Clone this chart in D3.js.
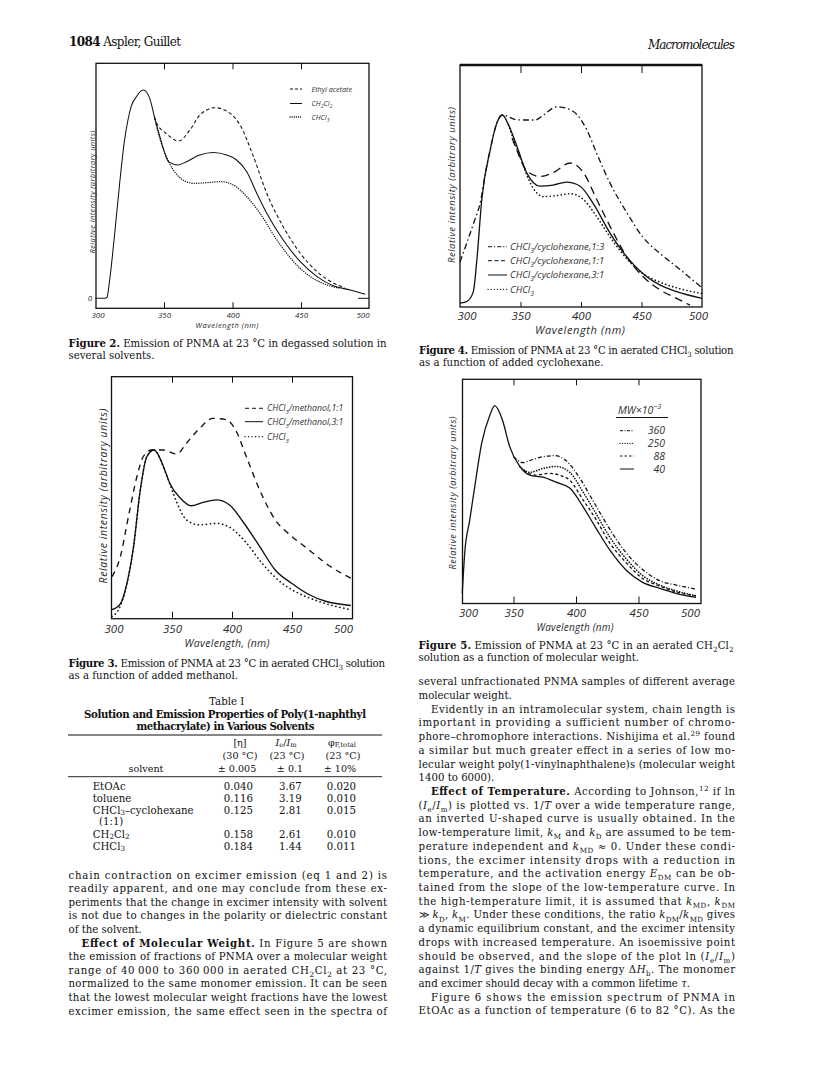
<!DOCTYPE html>
<html>
<head>
<meta charset="utf-8">
<script src="https://cdn.jsdelivr.net/npm/d3@7"></script>
<style>
  body { margin: 0; background: #fff; }
  svg { display: block; }
</style>
</head>
<body>
<script>
// ---- data -------------------------------------------------------------

const xTickValues = [300, 350, 400, 450, 500];
const innerTicks = [350, 400, 450];

// Figure 2: degassed solution, several solvents  [wavelength nm, relative intensity]
const fig2Labels = ["Ethyl acetate", "CH_{2}Cl_{2}", "CHCl_{3}"];
const fig2EthylAcetate = [[343, 0.872], [344.4, 0.845], [351.8, 0.79], [360.8, 0.755], [368.9, 0.808], [376.2, 0.88],
  [387.2, 0.915], [398.2, 0.888], [405.5, 0.832], [415.3, 0.68], [425, 0.504], [437, 0.344], [449.5, 0.216],
  [461.7, 0.128], [474, 0.072], [482, 0.05]];
const fig2CH2Cl2 = [[300, 0], [307, 0], [308.5, 0.006], [310, 0.07], [314, 0.31], [317.6, 0.55], [321, 0.75],
  [323.7, 0.856], [326, 0.92], [329.8, 0.968], [335, 1.0], [339.6, 0.96], [343, 0.872], [347, 0.776], [353.5, 0.655],
  [360.3, 0.64], [366.4, 0.656], [376, 0.688], [386, 0.70], [395.7, 0.688], [403, 0.664], [410.4, 0.608],
  [417.7, 0.504], [425, 0.408], [437, 0.28], [449.5, 0.176], [461.7, 0.104], [474, 0.059], [486, 0.04], [497, 0.019]];
const fig2CHCl3 = [[343, 0.872], [344.4, 0.83], [351.8, 0.68], [360.8, 0.584], [371.3, 0.552], [381, 0.555],
  [391, 0.56], [400.6, 0.544], [410.4, 0.488], [420.1, 0.408], [432.4, 0.28], [444.6, 0.176], [456.8, 0.104],
  [469, 0.064], [478.8, 0.048]];

// Figure 3: aerated CHCl3 with methanol
const fig3Labels = ["CHCl_{3}/methanol,1:1", "CHCl_{3}/methanol,3:1", "CHCl_{3}"];
const fig3Methanol11 = [[300, 0.25], [307, 0.37], [313.8, 0.61], [320.7, 0.84], [326, 0.96], [333, 1.0], [343, 1.0],
  [354, 0.976], [362, 1.04], [373, 1.128], [384, 1.187], [395, 1.18], [403, 1.118], [412, 0.96], [423, 0.764],
  [436, 0.587], [450, 0.488], [464, 0.41], [478, 0.33], [499, 0.242]];
const fig3Methanol31 = [[300, 0.055], [307, 0.09], [312.4, 0.21], [318, 0.43], [323.5, 0.76], [329, 0.96], [335, 1.0],
  [343, 0.90], [348, 0.805], [357, 0.715], [366, 0.67], [376, 0.69], [387, 0.705], [398, 0.675], [409, 0.577],
  [423, 0.43], [436, 0.29], [450, 0.21], [464, 0.145], [478, 0.105], [499, 0.08]];
const fig3CHCl3 = [[300, 0.015], [305, 0.05], [310, 0.14], [318, 0.43], [323.5, 0.76], [329, 0.96], [335, 1.0],
  [345, 0.86], [354, 0.69], [362, 0.587], [373, 0.557], [387, 0.566], [398, 0.543], [412, 0.45], [425, 0.33],
  [442, 0.21], [455, 0.154], [472, 0.105], [499, 0.055]];

// Figure 4: aerated CHCl3 with cyclohexane
const fig4Labels = ["CHCl_{3}/cyclohexane,1:3", "CHCl_{3}/cyclohexane,1:1", "CHCl_{3}/cyclohexane,3:1", "CHCl_{3}"];
const fig4Cyclo13 = [[300, 0.235], [306, 0.34], [312, 0.45], [317, 0.55], [321, 0.70], [325, 0.82], [330, 0.95],
  [335, 1.0], [347, 0.975], [355, 0.974], [362, 0.974], [369, 1.0], [380, 1.043], [388, 1.035], [397, 1.0],
  [405, 0.92], [413, 0.80], [424, 0.645], [438, 0.49], [451, 0.365], [465, 0.28], [479, 0.21], [500, 0.10]];
const fig4Cyclo11 = [[343, 0.88], [348, 0.80], [355, 0.71], [366, 0.68], [377, 0.70], [391, 0.75], [402, 0.70],
  [413, 0.56], [424, 0.42], [438, 0.26], [451, 0.16], [465, 0.09], [479, 0.045], [490, 0.01]];
const fig4Cyclo31 = [[300, 0.02], [306, 0.03], [311, 0.08], [314, 0.25], [318, 0.56], [325, 0.82], [330, 0.95],
  [335, 1.0], [340, 0.95], [346, 0.855], [355, 0.70], [366, 0.63], [377, 0.635], [388, 0.65], [399, 0.63],
  [410, 0.54], [424, 0.385], [438, 0.26], [451, 0.175], [465, 0.115], [479, 0.08], [500, 0.045]];
const fig4CHCl3 = [[340, 0.95], [345, 0.86], [350, 0.78], [357, 0.66], [369, 0.575], [380, 0.58], [391, 0.59],
  [402, 0.56], [413, 0.47], [424, 0.365], [438, 0.25], [451, 0.175], [465, 0.13], [479, 0.10], [500, 0.07]];

// Figure 5: aerated CH2Cl2, molecular weight fractions (MW x 10^-3)
const fig5Labels = ["360", "250", "88", "40"];
const fig5Mw360 = [[350, 0.74], [357.6, 0.71], [363, 0.72], [373.6, 0.74], [383, 0.745], [392, 0.72], [403, 0.63],
  [413.6, 0.515], [427, 0.37], [440, 0.25], [453, 0.166], [467, 0.107], [480, 0.085], [496, 0.065]];
const fig5Mw250 = [[355, 0.69], [363, 0.66], [373.6, 0.68], [384, 0.69], [395, 0.66], [405.6, 0.56], [416, 0.45],
  [427, 0.33], [440, 0.22], [453, 0.135], [467, 0.085], [480, 0.056], [496, 0.03]];
const fig5Mw88 = [[358, 0.67], [368, 0.646], [379, 0.655], [387, 0.645], [395, 0.62], [405.6, 0.52], [416, 0.42],
  [427, 0.30], [440, 0.20], [453, 0.12], [467, 0.08], [480, 0.05], [496, 0.03]];
const fig5Mw40 = [[309, 0.043], [311, 0.25], [315, 0.417], [319, 0.587], [324.6, 0.81], [331, 0.95], [335, 1.0],
  [341, 0.93], [347, 0.79], [355, 0.69], [363, 0.646], [373.6, 0.635], [384, 0.61], [395, 0.58], [405.6, 0.485],
  [416, 0.375], [427, 0.264], [440, 0.162], [453, 0.10], [467, 0.068], [480, 0.043], [496, 0.022]];

// Table I
const tableSolvents = ["EtOAc", "toluene", "CHCl_{3}–cyclohexane", "CH_{2}Cl_{2}", "CHCl_{3}"];
const intrinsicVisc = [0.040, 0.116, 0.125, 0.158, 0.184];
const ratioIeIm = [3.67, 3.19, 2.81, 2.61, 1.44];
const phiTotal = [0.020, 0.010, 0.015, 0.010, 0.011];

// text on the page
const fig2Caption = ["**Figure 2.** Emission of PNMA at 23 °C in degassed solution in", "several solvents."];
const fig3Caption = ["**Figure 3.** Emission of PNMA at 23 °C in aerated CHCl_{3} solution", "as a function of added methanol."];
const fig4Caption = ["**Figure 4.** Emission of PNMA at 23 °C in aerated CHCl_{3} solution", "as a function of added cyclohexane."];
const fig5Caption = ["**Figure 5.** Emission of PNMA at 23 °C in an aerated CH_{2}Cl_{2}", "solution as a function of molecular weight."];

const leftColLines = [
  "chain contraction on excimer emission (eq 1 and 2) is",
  "readily apparent, and one may conclude from these ex-",
  "periments that the change in excimer intensity with solvent",
  "is not due to changes in the polarity or dielectric constant",
  "of the solvent.",
  "  **Effect of Molecular Weight.** In Figure 5 are shown",
  "the emission of fractions of PNMA over a molecular weight",
  "range of 40\u2009000 to 360\u2009000 in aerated CH_{2}Cl_{2} at 23 °C,",
  "normalized to the same monomer emission. It can be seen",
  "that the lowest molecular weight fractions have the lowest",
  "excimer emission, the same effect seen in the spectra of"
];

const rightColLines = [
  "several unfractionated PNMA samples of different average",
  "molecular weight.",
  "  Evidently in an intramolecular system, chain length is",
  "important in providing a sufficient number of chromo-",
  "phore–chromophore interactions. Nishijima et al.^{29} found",
  "a similar but much greater effect in a series of low mo-",
  "lecular weight poly(1-vinylnaphthalene)s (molecular weight",
  "1400 to 6000).",
  "  **Effect of Temperature.** According to Johnson,^{12} if ln",
  "(*I*_{e}/*I*_{m}) is plotted vs. 1/*T* over a wide temperature range,",
  "an inverted U-shaped curve is usually obtained. In the",
  "low-temperature limit, *k*_{M} and *k*_{D} are assumed to be tem-",
  "perature independent and *k*_{MD} ≈ 0. Under these condi-",
  "tions, the excimer intensity drops with a reduction in",
  "temperature, and the activation energy *E*_{DM} can be ob-",
  "tained from the slope of the low-temperature curve. In",
  "the high-temperature limit, it is assumed that *k*_{MD}, *k*_{DM}",
  "≫ *k*_{D}, *k*_{M}. Under these conditions, the ratio *k*_{DM}/*k*_{MD} gives",
  "a dynamic equilibrium constant, and the excimer intensity",
  "drops with increased temperature. An isoemissive point",
  "should be observed, and the slope of the plot ln (*I*_{e}/*I*_{m})",
  "against 1/*T* gives the binding energy Δ*H*_{b}. The monomer",
  "and excimer should decay with a common lifetime *τ*.",
  "  Figure 6 shows the emission spectrum of PNMA in",
  "EtOAc as a function of temperature (6 to 82 °C). As the"
];

// ---- page ---------------------------------------------------------------

const W = 815, H = 1087;
const serif = "'DejaVu Serif', serif";
const sans = "'Open Sans', 'DejaVu Sans', sans-serif";
const ink = "#111";
const bodySize = 10.2;

const svg = d3.select("body").append("svg")
  .attr("width", W)
  .attr("height", H);

svg.append("rect").attr("width", W).attr("height", H).attr("fill", "#fff");

// writes a string with **bold**, *italic*, _{sub} and ^{sup} into a text element
function rich(textSel, str, subShift = 0.3) {
  const fs = parseFloat(textSel.attr("font-size")) || 10;
  const parts = str.split(/(\*\*.+?\*\*|\*.+?\*|_\{.+?\}|\^\{.+?\})/g).filter(s => s.length);
  let shift = 0;
  parts.forEach(p => {
    let txt = p, weight = null, style = null, target = 0, small = false;
    if (p.startsWith("**")) { txt = p.slice(2, -2); weight = "bold"; }
    else if (p.startsWith("*")) { txt = p.slice(1, -1); style = "italic"; }
    else if (p.startsWith("_{")) { txt = p.slice(2, -1); target = fs * subShift; small = true; }
    else if (p.startsWith("^{")) { txt = p.slice(2, -1); target = -fs * 0.42; small = true; }
    const t = textSel.append("tspan").text(txt);
    if (target !== shift) t.attr("dy", (target - shift).toFixed(2));
    shift = target;
    if (weight) t.attr("font-weight", weight);
    if (style) t.attr("font-style", style);
    if (small) t.attr("font-size", (fs * 0.7).toFixed(2));
  });
  return textSel;
}

function serifText(x, y, str, size, opts = {}) {
  const t = svg.append("text")
    .attr("x", x)
    .attr("y", y)
    .attr("font-family", serif)
    .attr("font-size", size)
    .attr("fill", ink)
    .attr("text-anchor", opts.anchor || "start");
  if (opts.weight) t.attr("font-weight", opts.weight);
  if (opts.style) t.attr("font-style", opts.style);
  rich(t, str, opts.sub);
  if (opts.len) t.attr("textLength", opts.len).attr("lengthAdjust", "spacing");
  return t;
}

// running head
serifText(69, 45.5, "**1084**  Aspler, Guillet", 12, { len: 112 });
serifText(735, 48.5, "Macromolecules", 12, { anchor: "end", style: "italic", len: 87 });

// ---- figures ----------------------------------------------------------

const figures = [
  {
    left: 96, right: 369, top: 63.3, bottom: 308.3, x300: 95.5, x500: 369.5, yZero: 298.3, yPeak: 90,
    lw: 1.05, tickTop: 6, tickBot: 6, tickFont: 8, tickBase: 318, lblIn: [1.5, 6.5],
    xTitle: "Wavelength (nm)", xTitleX: 227, xTitleY: 328, xTitleFont: 7.5, xTitleLen: 63,
    yTitleX: 92, yTitleY: 192, yTitleFont: 7.5, yTitleLen: 123,
    series: [
      { data: fig2EthylAcetate, dash: "3.5,2.5" },
      { data: fig2CH2Cl2, dash: null },
      { data: fig2CHCl3, dash: "0.1,2.2", dot: true }
    ],
    legend: { labels: fig2Labels, x1: 290, x2: 302, tx: 311.5, ys: [89, 103.5, 117], font: 7.2,
      dashes: ["3,2", null, "0.1,2"], dots: [false, false, true] },
    zeroMark: true
  },
  {
    left: 111.5, right: 352.5, top: 376.7, bottom: 618.7, x300: 112, x500: 352, yZero: 619, yPeak: 450,
    lw: 1.35, tickTop: 6, tickBot: 7, tickFont: 11.5, tickBase: 633.5, lblIn: [2, 9.5],
    xTitle: "Wavelength, (nm)", xTitleX: 227, xTitleY: 647, xTitleFont: 10.5, xTitleLen: 85,
    yTitleX: 103, yTitleY: 496, yTitleFont: 10.5, yTitleLen: 175,
    series: [
      { data: fig3Methanol11, dash: "6,5" },
      { data: fig3Methanol31, dash: null },
      { data: fig3CHCl3, dash: "0.1,4", dot: true }
    ],
    legend: { labels: fig3Labels, x1: 245, x2: 263, tx: 267, ys: [408.3, 421.7, 436.7], font: 8.8,
      dashes: ["4,3", null, "0.1,3.4"], dots: [false, false, true] }
  },
  {
    left: 460, right: 702, top: 65, bottom: 307, x300: 460, x500: 702, yZero: 307, yPeak: 115,
    lw: 1.3, tickTop: 8, tickBot: 5, tickFont: 11.5, tickBase: 320, lblIn: [6.5, 4], thickTop: true,
    xTitle: "Wavelength (nm)", xTitleX: 580, xTitleY: 334, xTitleFont: 11, xTitleLen: 90,
    yTitleX: 452, yTitleY: 185, yTitleFont: 9.5, yTitleLen: 156,
    series: [
      { data: fig4Cyclo13, dash: "6,3,1.5,3" },
      { data: fig4Cyclo11, dash: "8,5" },
      { data: fig4Cyclo31, dash: null },
      { data: fig4CHCl3, dash: "0.1,3.6", dot: true }
    ],
    legend: { labels: fig4Labels, x1: 488, x2: 507, tx: 510, ys: [246.7, 260.7, 275, 289.3], font: 9.6,
      dashes: ["4,2,1.2,2", "4,2.5", null, "0.1,3"], dots: [false, false, false, true] }
  },
  {
    left: 462.5, right: 701, top: 379.3, bottom: 603.5, x300: 451, x500: 701, yZero: 601.7, yPeak: 405.7,
    lw: 1.3, tickTop: 6, tickBot: 7, tickFont: 11.5, tickBase: 616.5, lblIn: [5.5, 11],
    xTitle: "Wavelength (nm)", xTitleX: 575, xTitleY: 630.5, xTitleFont: 10, xTitleLen: 77,
    yTitleX: 453, yTitleY: 493, yTitleFont: 9, yTitleLen: 153,
    series: [
      { data: fig5Mw360, dash: "4,2,1,2" },
      { data: fig5Mw250, dash: "0.1,2.6", dot: true },
      { data: fig5Mw88, dash: "3,2.5" },
      { data: fig5Mw40, dash: null }
    ],
    mwLegend: { labels: fig5Labels, headX: 618, headY: 410, ruleY: 417.5, ruleX: [616, 668], x1: 620, x2: 634,
      tx: 665, ys: [430.7, 443.3, 456, 469], font: 10.5,
      dashes: ["3,1.5,1,1.5", "0.1,2.4", "2.5,2", null], dots: [false, true, false, false] }
  }
];

function drawFigure(f) {
  const g = svg.append("g");

  const x = d3.scaleLinear().domain([300, 500]).range([f.x300, f.x500]);
  const y = d3.scaleLinear().domain([0, 1]).range([f.yZero, f.yPeak]);

  // curves
  const line = d3.line()
    .x(d => x(d[0]))
    .y(d => y(d[1]))
    .curve(d3.curveMonotoneX);

  f.series.forEach(s => {
    g.append("path")
      .datum(s.data)
      .attr("d", line)
      .attr("fill", "none")
      .attr("stroke", ink)
      .attr("stroke-width", s.dot ? f.lw * 1.25 : f.lw)
      .attr("stroke-linecap", s.dot ? "round" : "butt")
      .attr("stroke-dasharray", s.dash);
  });

  // frame
  g.append("rect")
    .attr("x", f.left)
    .attr("y", f.top)
    .attr("width", f.right - f.left)
    .attr("height", f.bottom - f.top)
    .attr("fill", "none")
    .attr("stroke", ink)
    .attr("stroke-width", 1.3);
  if (f.thickTop) {
    g.append("line")
      .attr("x1", f.left).attr("x2", f.right)
      .attr("y1", f.top).attr("y2", f.top)
      .attr("stroke", ink).attr("stroke-width", 2.4);
  }

  // inward tick marks top and bottom
  g.append("g")
    .attr("transform", `translate(0,${f.top})`)
    .attr("color", ink)
    .call(d3.axisBottom(x).tickValues(innerTicks).tickSize(f.tickTop).tickFormat(""))
    .call(a => a.select(".domain").remove())
    .call(a => a.selectAll("line").attr("stroke-width", 1));
  g.append("g")
    .attr("transform", `translate(0,${f.bottom})`)
    .attr("color", ink)
    .call(d3.axisTop(x).tickValues(innerTicks).tickSize(f.tickBot).tickFormat(""))
    .call(a => a.select(".domain").remove())
    .call(a => a.selectAll("line").attr("stroke-width", 1));

  // tick labels
  const lo = f.left + f.lblIn[0], hi = f.right - f.lblIn[1];
  g.append("g")
    .attr("transform", `translate(0,${f.bottom})`)
    .attr("color", "#2a2a2a")
    .call(d3.axisBottom(x).tickValues(xTickValues).tickSize(0)
      .tickPadding(f.tickBase - f.bottom - 0.71 * f.tickFont))
    .call(a => a.select(".domain").remove())
    .call(a => a.selectAll("text")
      .attr("font-family", sans)
      .attr("font-style", "italic")
      .attr("font-size", f.tickFont)
      .attr("x", d => Math.max(lo, Math.min(hi, x(d))) - x(d)));

  // axis titles
  g.append("text")
    .attr("x", f.xTitleX)
    .attr("y", f.xTitleY)
    .attr("text-anchor", "middle")
    .attr("font-family", sans)
    .attr("font-style", "italic")
    .attr("font-size", f.xTitleFont)
    .attr("fill", "#2a2a2a")
    .attr("textLength", f.xTitleLen)
    .attr("lengthAdjust", "spacing")
    .text(f.xTitle);

  g.append("text")
    .attr("transform", `translate(${f.yTitleX + f.yTitleFont * 0.36},${f.yTitleY}) rotate(-90)`)
    .attr("text-anchor", "middle")
    .attr("font-family", sans)
    .attr("font-style", "italic")
    .attr("font-size", f.yTitleFont)
    .attr("fill", "#2a2a2a")
    .attr("textLength", f.yTitleLen)
    .attr("lengthAdjust", "spacing")
    .text("Relative intensity (arbitrary units)");

  if (f.zeroMark) {
    g.append("text")
      .attr("x", f.left - 6)
      .attr("y", y(0) + 3)
      .attr("text-anchor", "middle")
      .attr("font-family", sans)
      .attr("font-style", "italic")
      .attr("font-size", f.tickFont)
      .attr("fill", "#2a2a2a")
      .text("0");
    g.append("line")
      .attr("x1", f.right - 11).attr("x2", f.right)
      .attr("y1", y(0)).attr("y2", y(0))
      .attr("stroke", ink).attr("stroke-width", 1);
  }

  if (f.legend) {
    const L = f.legend;
    L.labels.forEach((lab, i) => {
      g.append("line")
        .attr("x1", L.x1).attr("x2", L.x2)
        .attr("y1", L.ys[i]).attr("y2", L.ys[i])
        .attr("stroke", ink)
        .attr("stroke-width", L.dots[i] ? 1.3 : 1)
        .attr("stroke-linecap", L.dots[i] ? "round" : "butt")
        .attr("stroke-dasharray", L.dashes[i]);
      const t = g.append("text")
        .attr("x", L.tx)
        .attr("y", L.ys[i] + L.font * 0.36)
        .attr("font-family", sans)
        .attr("font-style", "italic")
        .attr("font-size", L.font)
        .attr("fill", "#333");
      rich(t, lab);
    });
  }

  if (f.mwLegend) {
    const L = f.mwLegend;
    const head = g.append("text")
      .attr("x", L.headX)
      .attr("y", L.headY + L.font * 0.36)
      .attr("font-family", sans)
      .attr("font-style", "italic")
      .attr("font-size", L.font)
      .attr("fill", "#333");
    rich(head, "MW×10^{−3}");
    g.append("line")
      .attr("x1", L.ruleX[0]).attr("x2", L.ruleX[1])
      .attr("y1", L.ruleY).attr("y2", L.ruleY)
      .attr("stroke", ink).attr("stroke-width", 1);
    L.labels.forEach((lab, i) => {
      g.append("line")
        .attr("x1", L.x1).attr("x2", L.x2)
        .attr("y1", L.ys[i]).attr("y2", L.ys[i])
        .attr("stroke", ink)
        .attr("stroke-width", L.dots[i] ? 1.3 : 1)
        .attr("stroke-linecap", L.dots[i] ? "round" : "butt")
        .attr("stroke-dasharray", L.dashes[i]);
      g.append("text")
        .attr("x", L.tx)
        .attr("y", L.ys[i] + L.font * 0.36)
        .attr("text-anchor", "end")
        .attr("font-family", sans)
        .attr("font-style", "italic")
        .attr("font-size", L.font)
        .attr("fill", "#333")
        .text(lab);
    });
  }
}

figures.forEach(drawFigure);

// ---- captions -----------------------------------------------------------

function caption(lines, x, y0, width) {
  lines.forEach((ln, i) => {
    serifText(x, y0 + i * 12, ln, bodySize, i < lines.length - 1 ? { len: width } : {});
  });
}
caption(fig2Caption, 68.5, 346.5, 318);
caption(fig3Caption, 68.5, 666.5, 316.5);
caption(fig4Caption, 419, 353.5, 314.5);
caption(fig5Caption, 418.5, 648.5, 315);

// ---- Table I --------------------------------------------------------------

serifText(226.7, 704.5, "Table I", bodySize, { anchor: "middle" });
serifText(225, 718, "Solution and Emission Properties of Poly(1-naphthyl", bodySize,
  { anchor: "middle", weight: "bold", len: 282 });
serifText(225.5, 729.5, "methacrylate) in Various Solvents", bodySize,
  { anchor: "middle", weight: "bold", len: 178 });

svg.append("line").attr("x1", 68).attr("x2", 382).attr("y1", 735).attr("y2", 735)
  .attr("stroke", ink).attr("stroke-width", 1.2);
svg.append("line").attr("x1", 68).attr("x2", 382).attr("y1", 776.7).attr("y2", 776.7)
  .attr("stroke", ink).attr("stroke-width", 0.9);

const headSize = 9.6;
serifText(240, 746, "[η]", headSize, { anchor: "middle" });
serifText(286, 746, "*I*_{e}/*I*_{m}", headSize, { anchor: "middle", sub: 0.12 });
serifText(342, 746, "φ_{F,total}", headSize, { anchor: "middle", sub: 0.12 });
serifText(240, 759, "(30 °C)", headSize, { anchor: "middle" });
serifText(287, 759, "(23 °C)", headSize, { anchor: "middle" });
serifText(343, 759, "(23 °C)", headSize, { anchor: "middle" });
serifText(146, 771.5, "solvent", headSize, { anchor: "middle" });
serifText(237, 771.5, "± 0.005", headSize, { anchor: "middle" });
serifText(290, 771.5, "± 0.1", headSize, { anchor: "middle" });
serifText(340, 771.5, "± 10%", headSize, { anchor: "middle" });

// table rows; the third solvent wraps onto a second line "(1:1)"
const rowLine = d3.scaleLinear().domain([0, 1]).range([790.2, 802.1]);
const rowSlot = [0, 1, 2, 4, 5];
const f3 = d3.format(".3f"), f2 = d3.format(".2f");
tableSolvents.forEach((s, i) => {
  const yy = rowLine(rowSlot[i]);
  serifText(92.7, yy, s, bodySize, { sub: 0.1 });
  serifText(253, yy, f3(intrinsicVisc[i]), bodySize, { anchor: "end" });
  serifText(301.7, yy, f2(ratioIeIm[i]), bodySize, { anchor: "end" });
  serifText(356, yy, f3(phiTotal[i]), bodySize, { anchor: "end" });
});
serifText(99, rowLine(3) - 0.5, "(1:1)", bodySize);

// ---- body text columns ----------------------------------------------------

function column(lines, x0, width, y0, lh, indent) {
  lines.forEach((ln, i) => {
    const ind = ln.startsWith("  ");
    const next = lines[i + 1];
    const justify = !(next && next.startsWith("  "));
    serifText(x0 + (ind ? indent : 0), y0 + i * lh, ln.trim(), bodySize,
      justify ? { len: width - (ind ? indent : 0) } : {});
  });
}

column(leftColLines, 68.5, 318.5, 878.5, 13.6, 13);
column(rightColLines, 418.5, 316.5, 685.2, 13.72, 12.5);
</script>
</body>
</html>
